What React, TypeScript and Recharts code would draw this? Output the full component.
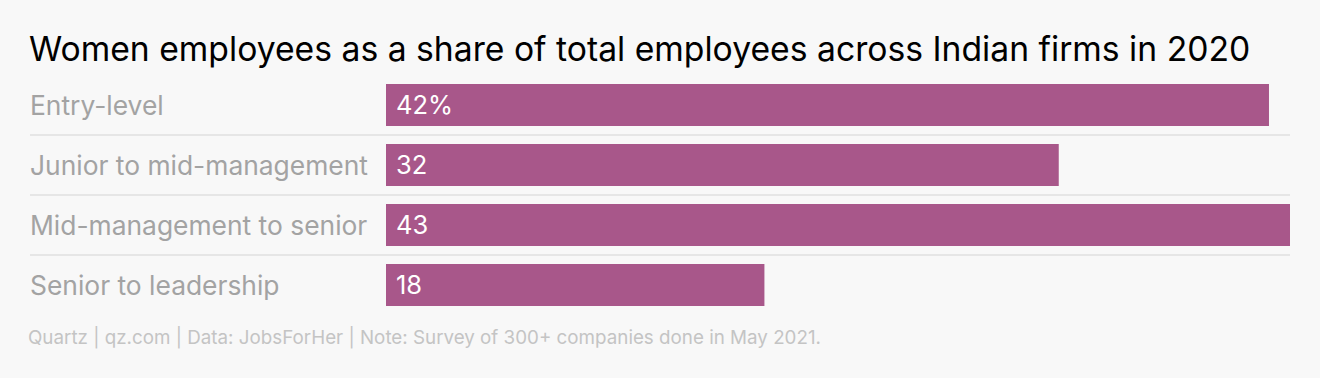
import { Bar, BarChart, LabelList, XAxis, YAxis } from "recharts";

const categories = [
  "Entry-level",
  "Junior to mid-management",
  "Mid-management to senior",
  "Senior to leadership",
];
const shares = [42, 32, 43, 18];
const valueLabels = ["42%", "32", "43", "18"];

const BG = "#f8f8f8";
const BAR = "#a8578a";

const data = categories.map((name, i) => ({
  name,
  value: shares[i],
  label: valueLabels[i],
}));

function CategoryTick(props: any) {
  const { y, payload } = props;
  return (
    <text x={30} y={y} dy={9.5} fill="#a3a3a3" fontSize={26.4} textAnchor="start">
      {payload.value}
    </text>
  );
}

// bar plus the thin rule under its row (not under the last one)
function RowBar(props: any) {
  const { x, y, width, height, index } = props;
  const gap = 9;
  return (
    <g>
      <rect x={x} y={y} width={width} height={height} fill={BAR} />
      {index < data.length - 1 && (
        <line x1={30} x2={1290} y1={y + height + gap} y2={y + height + gap} stroke="#e6e6e6" strokeWidth={2} />
      )}
    </g>
  );
}

export default function App() {
  return (
    <div
      style={{
        position: "absolute",
        left: 0,
        top: 0,
        width: 1320,
        height: 378,
        background: BG,
        fontFamily: "Inter, 'Noto Sans', sans-serif",
        overflow: "hidden",
      }}
    >
      <div style={{ position: "absolute", left: 29, top: 29, fontSize: 33.7, color: "#000", whiteSpace: "nowrap", lineHeight: "40px" }}>
        Women employees as a share of total employees across Indian firms in 2020
      </div>
      <BarChart
        width={1320}
        height={378}
        data={data}
        layout="vertical"
        margin={{ top: 75, right: 30, bottom: 63, left: 0 }}
        barCategoryGap={9}
      >
        <XAxis type="number" domain={[0, 43]} hide />
        <YAxis
          type="category"
          dataKey="name"
          width={386}
          axisLine={false}
          tickLine={false}
          tick={<CategoryTick />}
        />
        <Bar dataKey="value" shape={<RowBar />} isAnimationActive={false}>
          <LabelList dataKey="label" position="insideLeft" offset={10} fill="#fff" fontSize={25.5} />
        </Bar>
      </BarChart>
      <div style={{ position: "absolute", left: 28, top: 326, fontSize: 18.8, color: "#c4c4c4", whiteSpace: "nowrap" }}>
        Quartz | qz.com | Data: JobsForHer | Note: Survey of 300+ companies done in May 2021.
      </div>
    </div>
  );
}
